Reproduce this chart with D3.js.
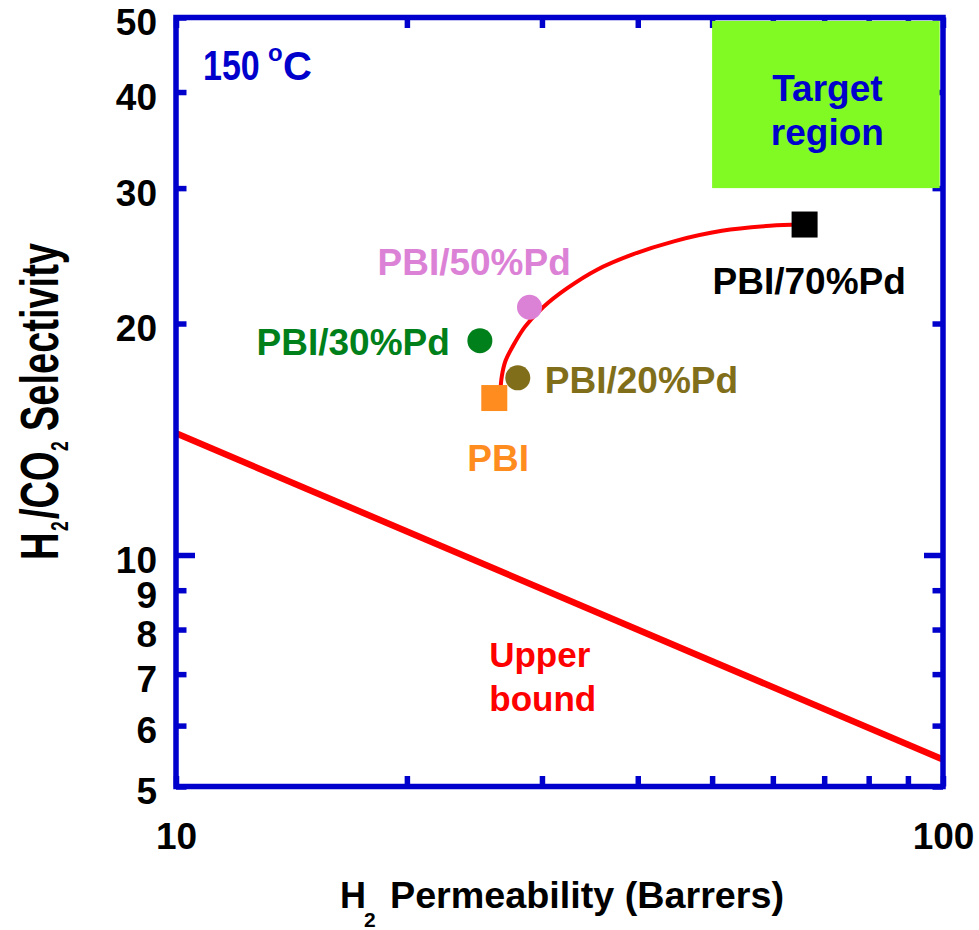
<!DOCTYPE html>
<html><head><meta charset="utf-8">
<script src="https://cdn.jsdelivr.net/npm/d3@7"></script>
<style>
body{margin:0;background:#fff}
svg{display:block}
text{font-family:"Liberation Sans",Arial,Helvetica,sans-serif;font-weight:bold}
</style>
</head><body>
<svg id="chart" width="979" height="930"></svg>
<script>
// ---------------- data ----------------
const sampleNames = ["PBI", "PBI/20%Pd", "PBI/30%Pd", "PBI/50%Pd", "PBI/70%Pd"];
const sampleShapes = ["square", "circle", "circle", "circle", "square"];
const samplePermeability = [26.0, 27.9, 24.9, 28.9, 66.0];
const sampleSelectivity = [16.0, 17.0, 19.0, 21.0, 26.9];

const trendPermeability = [26.45, 26.6, 26.9, 27.5, 28.5, 30.1, 32.3, 35.4, 39.4, 44.7, 51.5, 59.5, 65.1, 66.0];
const trendSelectivity  = [16.10, 17.1, 17.9, 18.7, 19.8, 21.0, 22.2, 23.5, 24.6, 25.6, 26.4, 26.8, 26.9, 26.9];

const upperBoundPermeability = [10, 100];
const upperBoundSelectivity = [14.4, 5.42];

const targetPermeability = [50, 99];
const targetSelectivity = [30, 49.5];

const xTickValues = [10, 20, 30, 40, 50, 60, 70, 80, 90, 100];
const xTickLabels = [10, 100];
const yTickValues = [5, 6, 7, 8, 9, 10, 20, 30, 40, 50];
const yMajorTicks = [10];

// ---------------- layout & style ----------------
const BLUE = "#0000CC", RED = "#FF0000";
const sampleColor = {
  "PBI": "#FF8C1F", "PBI/20%Pd": "#806E1A", "PBI/30%Pd": "#00801A",
  "PBI/50%Pd": "#DC82D6", "PBI/70%Pd": "#000000"
};
// label placement relative to the marker centre (px)
const labelLayout = {
  "PBI":       {dx: -27, dy: 73,  anchor: "start"},
  "PBI/20%Pd": {dx: 27,  dy: 15,  anchor: "start"},
  "PBI/30%Pd": {dx: -30, dy: 14,  anchor: "end"},
  "PBI/50%Pd": {dx: -152, dy: -32, anchor: "start"},
  "PBI/70%Pd": {dx: -92, dy: 69,  anchor: "start"}
};

const L = 176, R = 943, T = 17.5, B = 786.5;
const svg = d3.select("#chart");
const x = d3.scaleLog().domain([10, 100]).range([L, R]);
const y = d3.scaleLog().domain([5, 50]).range([B, T]);

const lw = 5.5;

function styleAxis(g) {
  g.select(".domain").remove();
  g.selectAll(".tick line").attr("stroke", BLUE).attr("stroke-width", lw);
  g.selectAll(".tick text").attr("fill", "#000").attr("font-size", 37)
    .attr("font-family", '"Liberation Sans",Arial,sans-serif').attr("font-weight", "bold");
}

// bottom axis
const gB = svg.append("g").attr("transform", `translate(0,${B})`)
  .call(d3.axisBottom(x).tickValues(xTickValues).tickSizeInner(-10.5).tickSizeOuter(0)
    .tickPadding(36.5).tickFormat(d => xTickLabels.includes(d) ? String(d) : ""));
styleAxis(gB);
// top axis
const gT = svg.append("g").attr("transform", `translate(0,${T})`)
  .call(d3.axisTop(x).tickValues(xTickValues).tickSizeInner(-10.5).tickSizeOuter(0).tickFormat(""));
styleAxis(gT);
// left axis
const gL = svg.append("g").attr("transform", `translate(${L},0)`)
  .call(d3.axisLeft(y).tickValues(yTickValues).tickSizeInner(-10.5).tickSizeOuter(0)
    .tickPadding(19).tickFormat(d3.format("d")));
styleAxis(gL);
gL.selectAll(".tick text").attr("dy", "0.46em");
gL.selectAll(".tick line").filter(d => yMajorTicks.includes(d)).attr("x2", 19);
// right axis
const gR = svg.append("g").attr("transform", `translate(${R},0)`)
  .call(d3.axisRight(y).tickValues(yTickValues).tickSizeInner(-10.5).tickSizeOuter(0).tickFormat(""));
styleAxis(gR);
gR.selectAll(".tick line").filter(d => yMajorTicks.includes(d)).attr("x2", -19);

// target region
const tx0 = x(targetPermeability[0]), tx1 = x(targetPermeability[1]);
const ty0 = y(targetSelectivity[1]), ty1 = y(targetSelectivity[0]);
svg.append("rect").attr("x", tx0).attr("y", ty0).attr("width", tx1 - tx0).attr("height", ty1 - ty0)
  .attr("fill", "#80FA22");
const tg = svg.append("text").attr("fill", BLUE).attr("font-size", 37).attr("text-anchor", "middle");
tg.append("tspan").attr("x", (tx0 + tx1) / 2 + 1.5).attr("y", ty0 + 80).text("Target");
tg.append("tspan").attr("x", (tx0 + tx1) / 2 + 1.5).attr("y", ty0 + 124).text("region");

// clip
svg.append("clipPath").attr("id", "plotclip").append("rect")
  .attr("x", L).attr("y", T).attr("width", R - L).attr("height", B - T);

// upper bound
const line = d3.line().x(d => x(d[0])).y(d => y(d[1]));
svg.append("path").attr("clip-path", "url(#plotclip)")
  .attr("d", line(d3.zip(upperBoundPermeability, upperBoundSelectivity)))
  .attr("fill", "none").attr("stroke", RED).attr("stroke-width", 6.5);

// trend curve
svg.append("path")
  .attr("d", d3.line().x(d => x(d[0])).y(d => y(d[1])).curve(d3.curveCatmullRom.alpha(0.5))(d3.zip(trendPermeability, trendSelectivity)))
  .attr("fill", "none").attr("stroke", RED).attr("stroke-width", 4);

// frame
svg.append("rect").attr("x", L).attr("y", T).attr("width", R - L).attr("height", B - T)
  .attr("fill", "none").attr("stroke", BLUE).attr("stroke-width", lw);

// points
const pts = sampleNames.map((n, i) => ({name: n, shape: sampleShapes[i], px: samplePermeability[i], sy: sampleSelectivity[i]}));
const sq = 26;
svg.selectAll("rect.pt").data(pts.filter(p => p.shape === "square")).join("rect").attr("class", "pt")
  .attr("x", d => x(d.px) - sq / 2).attr("y", d => y(d.sy) - sq / 2)
  .attr("width", sq).attr("height", sq).attr("fill", d => sampleColor[d.name]);
svg.selectAll("circle.pt").data(pts.filter(p => p.shape === "circle")).join("circle").attr("class", "pt")
  .attr("cx", d => x(d.px)).attr("cy", d => y(d.sy)).attr("r", 12.5)
  .attr("fill", d => sampleColor[d.name]);

// point labels
svg.selectAll("text.lbl").data(pts).join("text").attr("class", "lbl")
  .attr("x", d => x(d.px) + labelLayout[d.name].dx)
  .attr("y", d => y(d.sy) + labelLayout[d.name].dy)
  .attr("text-anchor", d => labelLayout[d.name].anchor)
  .attr("font-size", 37).attr("fill", d => sampleColor[d.name]).text(d => d.name);

// upper bound label
const ub = svg.append("text").attr("fill", RED).attr("font-size", 35).attr("text-anchor", "middle");
ub.append("tspan").attr("x", x(29.8)).attr("y", y(7.15)).text("Upper");
ub.append("tspan").attr("x", x(29.8) + 3).attr("y", y(7.15) + 44).text("bound");

// temperature label
const tl = svg.append("g").attr("fill", BLUE);
tl.append("text").attr("transform", `translate(${L + 27},80) scale(1,1.23)`).attr("font-size", 34).text("150");
tl.append("text").attr("x", L + 92).attr("y", 61).attr("font-size", 24).text("o");
tl.append("text").attr("x", L + 107).attr("y", 80).attr("font-size", 40).text("C");

// x axis title
const xt = svg.append("g").attr("fill", "#000");
xt.append("text").attr("x", 340).attr("y", 908).attr("font-size", 36).text("H");
xt.append("text").attr("x", 364).attr("y", 927).attr("font-size", 21).text("2");
xt.append("text").attr("x", 390).attr("y", 908).attr("font-size", 37)
  .attr("textLength", 394).attr("lengthAdjust", "spacingAndGlyphs").text("Permeability (Barrers)");

// y axis title (stretched across the text direction as in the original)
const yt = svg.append("g").attr("transform", "translate(58,560) rotate(-90) scale(1,1.4)").attr("fill", "#000");
yt.append("text").attr("x", 0).attr("y", 0).attr("font-size", 38).text("H");
yt.append("text").attr("x", 29).attr("y", 7).attr("font-size", 17.5).text("2");
yt.append("text").attr("x", 41).attr("y", 0).attr("font-size", 38).text("/CO");
yt.append("text").attr("x", 109).attr("y", 7).attr("font-size", 17.5).text("2");
yt.append("text").attr("x", 129).attr("y", 0).attr("font-size", 38).text("Selectivity");
</script>
</body></html>
